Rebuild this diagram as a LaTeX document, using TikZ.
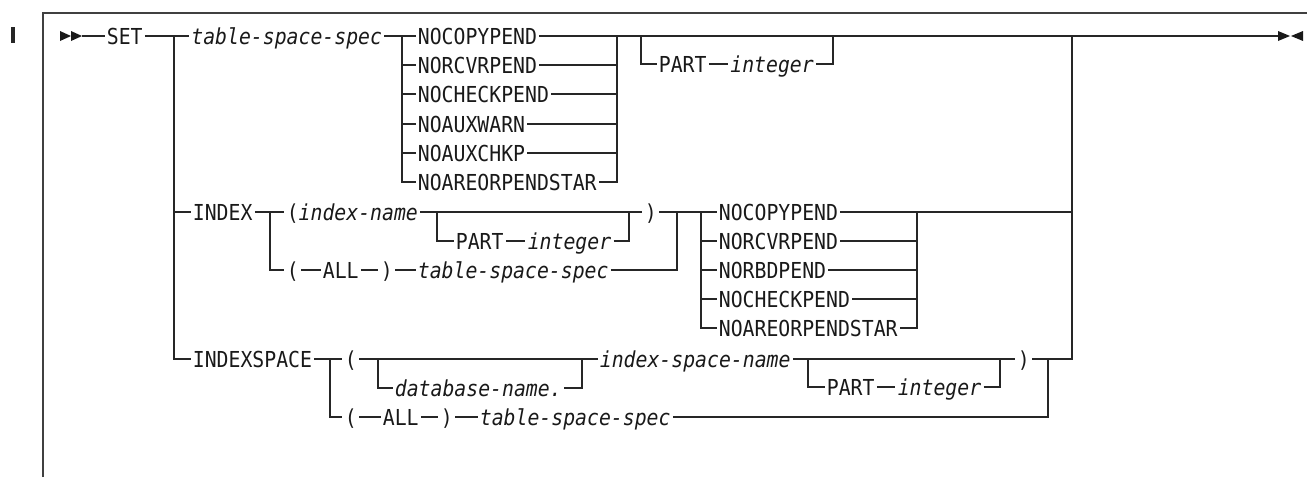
\documentclass[tikz,border=0pt]{standalone}
\usepackage{fontspec}
\setmonofont{DejaVu Sans Mono}[FakeStretch=0.9]
\begin{document}
\begin{tikzpicture}[x=0.5pt,y=-0.5pt,line width=0.75pt,
  kw/.style={font=\ttfamily\fontsize{11}{13}\selectfont,inner xsep=0.8pt,inner ysep=0pt,
             text height=8pt,text depth=0pt,anchor=west,text=black!90},
  var/.style={kw,font=\ttfamily\itshape\fontsize{11}{13}\selectfont},
  rail/.style={draw=black!85,line width=0.8pt},
  frame/.style={draw=black!75,line width=0.7pt},
  tip/.style={fill=black!90,draw=none}]
\useasboundingbox (0,0) rectangle (1307,477);

% frame and change bar
\coordinate (fr0) at (43,477);
\coordinate (fr1) at (43,13);
\coordinate (fr2) at (1307,13);
\draw[frame] (fr0) -- (fr1) -- (fr2);
\fill[black!85] (11,27) rectangle (15,43);

% ---------- coordinates ----------
\coordinate (s0) at (82,36);
\coordinate (b0) at (174,36);
\coordinate (b1) at (402,36);
\coordinate (m1) at (617,36);
\coordinate (p1a) at (641,36);
\coordinate (p1b) at (833,36);
\coordinate (bigR) at (1072,36);
\coordinate (endA) at (1278,36);

\coordinate (c1) at (270,212);
\coordinate (c2) at (437,212);
\coordinate (p2b) at (629,212);
\coordinate (c4) at (677,212);
\coordinate (c5) at (701,212);
\coordinate (c6) at (917,212);
\coordinate (bigR2) at (1072,212);

\coordinate (d1) at (330,359);
\coordinate (d2) at (378,359);
\coordinate (d3) at (582,359);
\coordinate (d4) at (808,359);
\coordinate (d5) at (1000,359);
\coordinate (d6) at (1048,359);
\coordinate (d7) at (1072,359);

% ---------- text nodes ----------
\node[kw]  (set)  at (104.5,36) {SET};
\node[var] (tss1) at (189,36) {table-space-spec};
\node[kw]  (o1) at (415.5,36)  {NOCOPYPEND};
\node[kw]  (o2) at (415.5,65)  {NORCVRPEND};
\node[kw]  (o3) at (415.5,94)  {NOCHECKPEND};
\node[kw]  (o4) at (415.5,124) {NOAUXWARN};
\node[kw]  (o5) at (415.5,153) {NOAUXCHKP};
\node[kw]  (o6) at (415.5,182) {NOAREORPENDSTAR};
\node[kw]  (part1) at (656.5,64) {PART};
\node[var] (int1)  at (728,64)   {integer};

\node[kw]  (index) at (190.5,212) {INDEX};
\node[kw]  (iname) at (284.4,212) {(\textit{index-name}};
\node[kw]  (part2) at (453.5,241) {PART};
\node[var] (int2)  at (525.4,241) {integer};
\node[kw]  (rp2)   at (642.4,212) {)};
\node[kw]  (lp3)   at (284.4,270) {(};
\node[kw]  (all3)  at (320.5,270) {ALL};
\node[kw]  (rp3)   at (378.4,270) {)};
\node[var] (tss3)  at (415.5,270) {table-space-spec};
\node[kw]  (q1) at (716.5,212) {NOCOPYPEND};
\node[kw]  (q2) at (716.5,241) {NORCVRPEND};
\node[kw]  (q3) at (716.5,270) {NORBDPEND};
\node[kw]  (q4) at (716.5,299) {NOCHECKPEND};
\node[kw]  (q5) at (716.5,328) {NOAREORPENDSTAR};

\node[kw]  (ixs)   at (190.5,359) {INDEXSPACE};
\node[kw]  (lp4)   at (342.4,359) {(};
\node[var] (dbn)   at (392.5,388) {database-name.};
\node[var] (isn)   at (597.5,359) {index-space-name};
\node[kw]  (part4) at (824.5,387) {PART};
\node[var] (int4)  at (895.4,387) {integer};
\node[kw]  (rp4)   at (1015.4,359) {)};
\node[kw]  (lp5)   at (342.4,417) {(};
\node[kw]  (all5)  at (380.5,417) {ALL};
\node[kw]  (rp5)   at (438.4,417) {)};
\node[var] (tss5)  at (477.5,417) {table-space-spec};

% ---------- tips ----------
\fill[tip] (60,31) -- (71,36) -- (60,41) -- cycle;
\fill[tip] (71,31) -- (82,36) -- (71,41) -- cycle;
\fill[tip] (1278,31) -- (1290,36) -- (1278,41) -- cycle;
\fill[tip] (1303,31) -- (1291,36) -- (1303,41) -- cycle;

% ---------- rails ----------
\draw[rail] (s0) -- (set.west);
\draw[rail] (set.east) -- (tss1.west);
\draw[rail] (b0) |- (index.west);
\draw[rail] (b0) |- (ixs.west);
\draw[rail] (tss1.east) -- (o1.west);
\foreach \o in {o2,o3,o4,o5,o6} {
  \draw[rail] (b1) |- (\o.west);
  \draw[rail] (\o.east) -| (m1);
}
\draw[rail] (o1.east) -- (endA);
\draw[rail] (p1a) |- (part1.west);
\draw[rail] (part1) -- (int1);
\draw[rail] (int1.east) -| (p1b);

% INDEX
\draw[rail] (index.east) -- (iname.west);
\draw[rail] (iname.east) -- (rp2.west);
\draw[rail] (c2) |- (part2.west);
\draw[rail] (part2) -- (int2);
\draw[rail] (int2.east) -| (p2b);
\draw[rail] (c1) |- (lp3.west);
\draw[rail] (lp3) -- (all3);
\draw[rail] (all3) -- (rp3);
\draw[rail] (rp3) -- (tss3);
\draw[rail] (tss3.east) -| (c4);
\draw[rail] (rp2.east) -- (q1.west);
\foreach \q in {q2,q3,q4,q5} {
  \draw[rail] (c5) |- (\q.west);
  \draw[rail] (\q.east) -| (c6);
}
\draw[rail] (q1.east) -- (bigR2);

% INDEXSPACE
\draw[rail] (ixs.east) -- (lp4.west);
\draw[rail] (lp4.east) -- (isn.west);
\draw[rail] (d2) |- (dbn.west);
\draw[rail] (dbn.east) -| (d3);
\draw[rail] (isn.east) -- (rp4.west);
\draw[rail] (d4) |- (part4.west);
\draw[rail] (part4) -- (int4);
\draw[rail] (int4.east) -| (d5);
\draw[rail] (d1) |- (lp5.west);
\draw[rail] (lp5) -- (all5);
\draw[rail] (all5) -- (rp5);
\draw[rail] (rp5) -- (tss5);
\draw[rail] (tss5.east) -| (d6);
\draw[rail] (rp4.east) -- (d7) -- (bigR);
\end{tikzpicture}
\end{document}
